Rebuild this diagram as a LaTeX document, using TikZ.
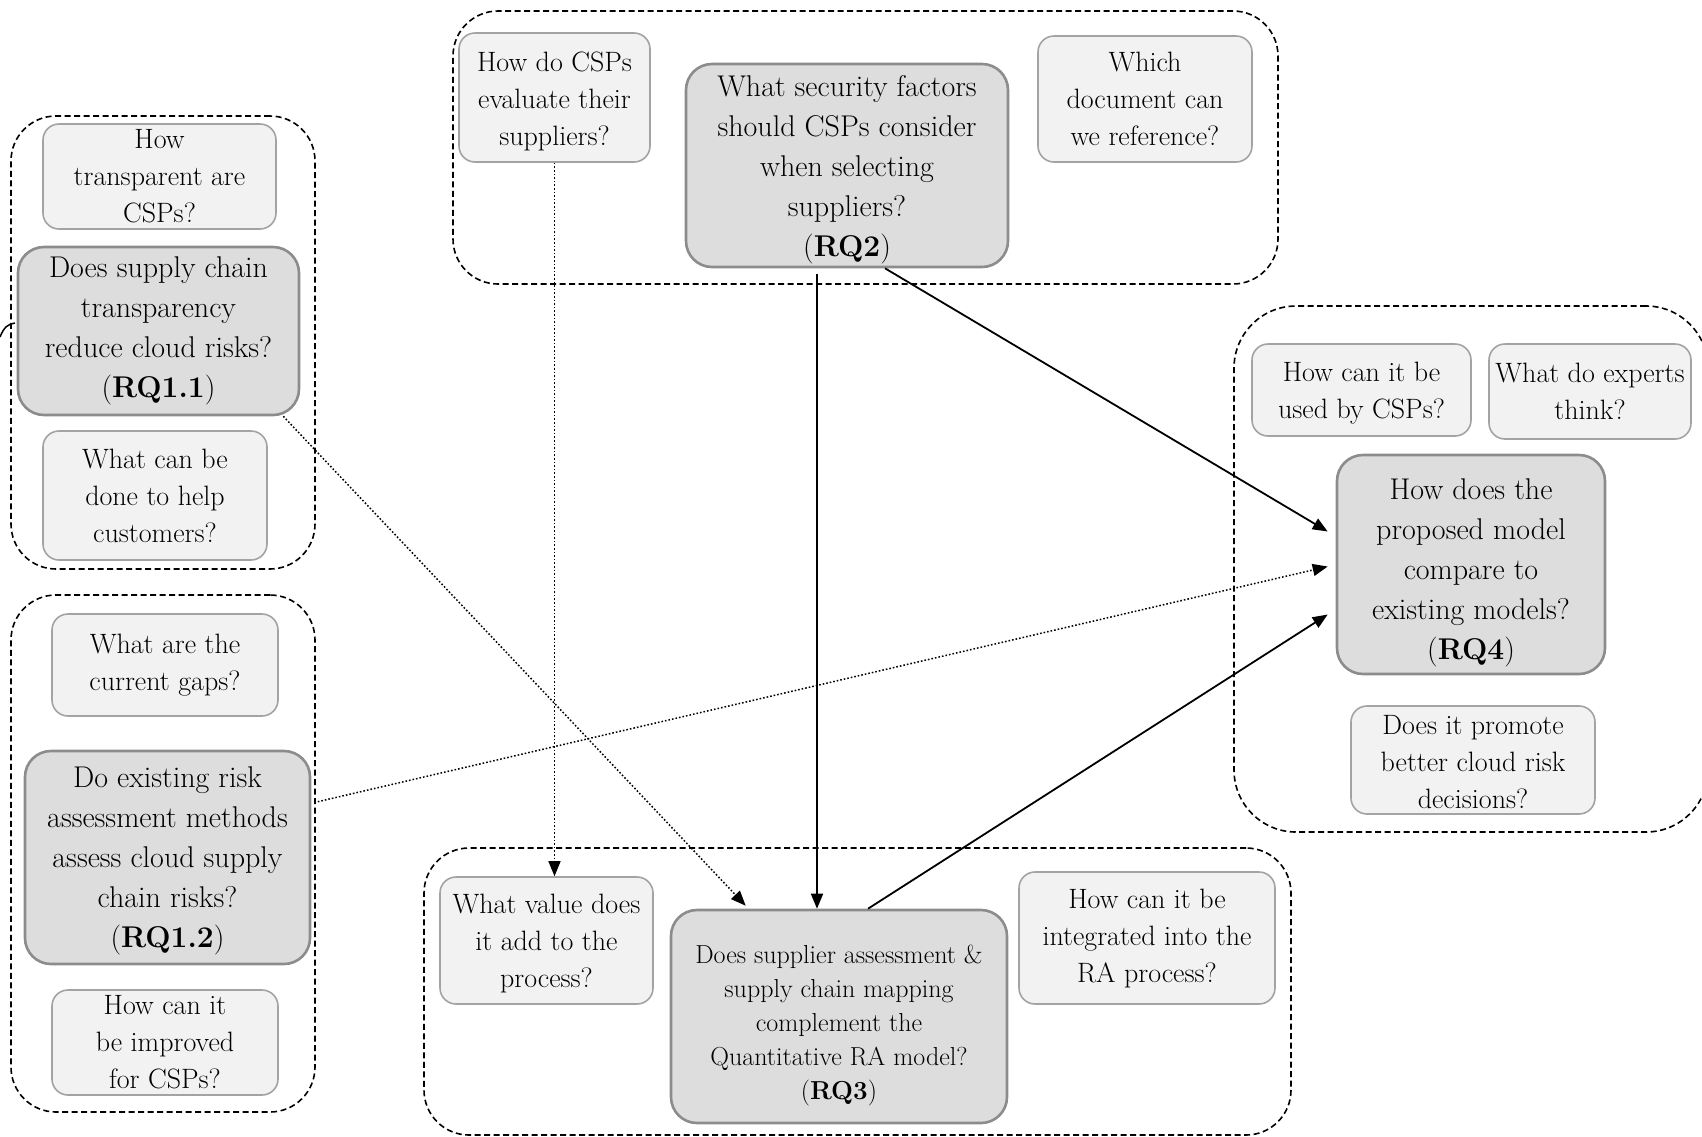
\documentclass[tikz,border=0pt]{standalone}
\usepackage{fontspec}
\usetikzlibrary{arrows.meta,calc}

\definecolor{lightfill}{HTML}{F2F2F2}
\definecolor{lightedge}{HTML}{A3A3A3}
\definecolor{darkfill}{HTML}{DDDDDD}
\definecolor{darkedge}{HTML}{8C8C8C}

% invisible strut that raises the first line's height, pushing a text block down
\newcommand{\firstlinestrut}[1]{\rule{0pt}{#1}}

\tikzset{
  lightq/.style={draw=lightedge, fill=lightfill, line width=1.6pt,
    rounded corners=16pt, inner sep=0pt, align=center,
    font=\fontsize{28}{37}\selectfont},
  darkq/.style={draw=darkedge, fill=darkfill, line width=2.6pt,
    rounded corners=26pt, inner sep=0pt, align=center,
    font=\fontsize{30}{40}\selectfont},
  smalltext/.style={font=\fontsize{26}{34}\selectfont},
  grp/.style={draw=black, line width=1.6pt, dash pattern=on 6pt off 3.5pt,
    rounded corners=45pt, inner sep=0pt},
  link/.style={line width=1.8pt, -{Triangle[length=15pt,width=12pt]}},
  dotlink/.style={line width=1.5pt, dash pattern=on 1.6pt off 2pt,
    -{Triangle[length=15pt,width=12pt]}},
}

\begin{document}
\begin{tikzpicture}[x=1pt,y=-1pt]
\useasboundingbox (0,0) rectangle (1702,1136);
\begin{scope}
\clip (0,0) rectangle (1702,1136);

% dashed group frames
\node[grp, minimum width=304pt, minimum height=453pt] (g1) at (163,342.5) {};
\node[grp, minimum width=304pt, minimum height=517pt] (g2) at (163,853.5) {};
\node[grp, minimum width=825pt, minimum height=273pt] (g3) at (865.5,147.5) {};
\node[grp, rounded corners=62pt, minimum width=474pt, minimum height=526pt] (g4) at (1471,569) {};
\node[grp, minimum width=867pt, minimum height=287pt] (g5) at (857.5,991.5) {};

% stray rounded corner at the left border
\draw[line width=1.5pt] (0,337) .. controls (4,327) and (8,324) .. (15,323);

% RQ1.1 cluster
\node[lightq, minimum width=233pt, minimum height=105pt] (n11a) at (159.5,176.5) {How\\transparent are\\CSPs?};
\node[darkq, minimum width=281pt, minimum height=168pt] (rq11) at (158.5,331) {Does supply chain\\transparency\\reduce cloud risks?\\(\textbf{RQ1.1})};
\node[lightq, minimum width=224pt, minimum height=129pt] (n11b) at (155,495.5) {What can be\\done to help\\customers?};

% RQ1.2 cluster
\node[lightq, minimum width=226pt, minimum height=102pt] (n12a) at (165,665) {What are the\\current gaps?};
\node[darkq, minimum width=285pt, minimum height=213pt] (rq12) at (167.5,857.5) {\firstlinestrut{27pt}Do existing risk\\assessment methods\\assess cloud supply\\chain risks?\\(\textbf{RQ1.2})};
\node[lightq, minimum width=226pt, minimum height=105pt] (n12b) at (165,1042.5) {How can it\\be improved\\for CSPs?};

% RQ2 cluster
\node[lightq, minimum width=191pt, minimum height=129pt] (n2a) at (554.5,97.5) {\firstlinestrut{27.5pt}How do CSPs\\evaluate their\\suppliers?};
\node[darkq, minimum width=322pt, minimum height=203pt] (rq2) at (847,165.5) {\firstlinestrut{29pt}What security factors\\should CSPs consider\\when selecting\\suppliers?\\(\textbf{RQ2})};
\node[lightq, minimum width=214pt, minimum height=126pt] (n2b) at (1145,99) {Which\\document can\\we reference?};

% RQ4 cluster
\node[lightq, minimum width=219pt, minimum height=92pt] (n4a) at (1361.5,390) {\firstlinestrut{25.5pt}How can it be\\used by CSPs?};
\node[lightq, minimum width=202pt, minimum height=95pt] (n4b) at (1590,391.5) {What do experts\\think?};
\node[darkq, minimum width=268pt, minimum height=219pt] (rq4) at (1471,564.5) {\firstlinestrut{37pt}How does the\\proposed model\\compare to\\existing models?\\(\textbf{RQ4})};
\node[lightq, minimum width=244pt, minimum height=108pt] (n4c) at (1473,760) {\firstlinestrut{23.5pt}Does it promote\\better cloud risk\\decisions?};

% RQ3 cluster
\node[lightq, minimum width=213pt, minimum height=127pt] (n3a) at (546.5,940.5) {\firstlinestrut{25.5pt}What value does\\it add to the\\process?};
\node[darkq, smalltext, minimum width=336pt, minimum height=213pt] (rq3) at (839,1016.5) {\firstlinestrut{36pt}Does supplier assessment \&\\supply chain mapping\\complement the\\Quantitative RA model?\\(\textbf{RQ3})};
\node[lightq, minimum width=256pt, minimum height=132pt] (n3b) at (1147,938) {How can it be\\integrated into the\\RA process?};
\end{scope}

% connectors
\draw[dotlink] (n2a.south) -- (n2a.south |- n3a.north);
\draw[dotlink] ($(rq11.south east)+(-17,0)$) -- ($(rq3.north west)+(76,-3)$);
\draw[link] ($(rq2.south)+(-30,6)$) -- ($(rq3.north)+(-22,0)$);
\draw[link] ($(rq2.south)+(38,0)$) -- ($(rq4.west)+(-8,-33)$);
\draw[dotlink] ($(rq12.east)+(3,-55)$) -- ($(rq4.west)+(-8,2)$);
\draw[link] ($(rq3.north)+(29,0)$) -- ($(rq4.west)+(-8,50)$);
\end{tikzpicture}
\end{document}
